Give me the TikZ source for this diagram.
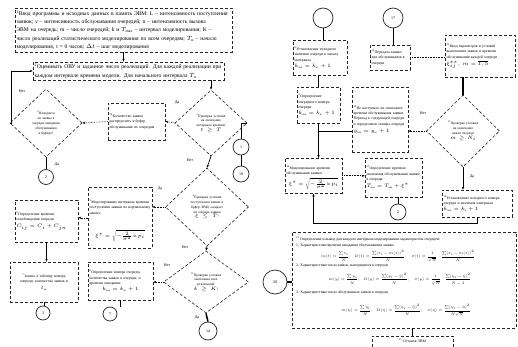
\documentclass[tikz,border=0pt]{standalone}
\usepackage{amsmath}
\usepackage{graphicx}
\usepackage{fontspec}
\setmainfont{Liberation Serif}
\usetikzlibrary{shapes.geometric,arrows.meta}
\tikzset{
 bx/.style={draw=black!85, densely dashed, line width=0.6pt, inner sep=1.5pt, align=left},
 ftA/.style={font=\fontsize{5.6}{8.2}\selectfont},
 ftB/.style={font=\fontsize{3.8}{5.3}\selectfont},
 dia/.style={draw=black!85, densely dashed, line width=0.6pt, diamond, inner sep=0pt},
 dtext/.style={font=\fontsize{3.5}{4.8}\selectfont, align=center, inner sep=0pt},
 circ/.style={draw=black!85, circle, line width=0.7pt, inner sep=0pt, font=\fontsize{4}{4}\selectfont},
 arr/.style={densely dotted, line width=0.6pt, -{Stealth[length=3pt,width=2.4pt]}},
 sarr/.style={line width=0.7pt, -{Stealth[length=3pt,width=2.4pt]}},
 ln/.style={line width=0.7pt},
 thk/.style={line width=1.5pt},
 lbl/.style={font=\fontsize{4}{4}\selectfont, inner sep=0pt},
 r9t/.style={font=\fontsize{3.8}{4.5}\selectfont, inner sep=0pt, anchor=west},
 r9f/.style={font=\fontsize{5}{5}\selectfont, inner sep=0pt},
 ffm/.style={font=\fontsize{3.8}{5.3}\selectfont, inner sep=0pt},
}
\newcommand{\fsm}[1]{\scalebox{0.72}{#1}}
\begin{document}
\begin{tikzpicture}[x=1pt,y=-1pt]
\useasboundingbox[fill=white] (0,0) rectangle (518,347);

% ---------------- left half ----------------
\node[bx, ftA, text width=214pt, minimum height=44pt] (b1) at (123.5,30) {\textsuperscript{1}Ввод программы и исходных данных в память ЭВМ: L – интенсивность поступления заявок; ν – интенсивность обслуживания очередей; n – интенсивность вызова ЭВМ на очередь; m – число очередей; k и $T_{\max}$ – интервал моделирования; K – число реализаций статистического моделирования по всем очередям; $T_{\text{н}}$ – начало моделирования, t = 0 часов; $\Delta t$ – шаг моделирования};
\node[bx, ftA, text width=188pt, minimum height=18pt] (b2) at (128.5,71) {\textsuperscript{2}Оценивать ОВУ и заданное число реализаций. Для каждой реализации при каждом интервале времени модели. Для начального интервала $T_{\text{н}}$};

\node[dia, minimum width=72pt, minimum height=68pt] (d1) at (46,123) {};
\node[dtext, text width=30pt] (d1t) at (d1) {\textsuperscript{9}Находится ли заявка в очереди ожидания обслуживания в буфере?};
\node[bx, ftB, text width=54pt, minimum height=37pt] (b3) at (136.5,121.5) {\textsuperscript{10}Количество заявок распределить в буфер обслуживания по очередям};
\node[dia, minimum width=72pt, minimum height=66pt] (d2) at (211,123) {};
\node[dtext, text width=32pt] (d2t) at (d2) {\textsuperscript{3}Проверка условия на окончание интервала времени $t\ge T$};
\node[circ, minimum size=16pt] (cA) at (241,147) {1};
\node[circ, minimum size=16pt] (cB) at (241,174) {18};
\node[circ, minimum size=15pt] (c2) at (46,177) {2};

\node[dia, minimum width=83pt, minimum height=78pt] (d3) at (207,207) {};
\node[dtext, text width=38pt] (d3t) at (d3) {\textsuperscript{4}Проверка условия поступления заявки в буфер ЭВМ, ожидает ли очередь заявки $\xi\le T$?};
\node[bx, ftB, text width=60pt, minimum height=42pt] (b4) at (46.5,221) {\textsuperscript{6}Определение времени освобождения очереди\\[2pt] $C_{ij}=C_i+C_{jn}$};
\node[bx, ftB, text width=61pt, minimum height=61pt, anchor=north, text depth=32pt] (b5) at (120,187) {\textsuperscript{5}Моделирование интервала времени поступления заявки по нормальному закону:};
\node[ffm] (b5f) at (120,236) {$\xi^{*}=\sqrt{-\tfrac{2}{\sigma^{2}}\ln p_i}$};

\node[bx, ftB, text width=65pt, minimum height=40pt, align=center] (b6) at (44,282) {\textsuperscript{7}Запись в таблицу номера очереди, количества заявок и\\[1pt] $t_{\text{ож}}$};
\node[bx, ftB, text width=62pt, minimum height=38pt] (b7) at (120.5,281) {\textsuperscript{8}Определение номера очереди, количества заявок в очереди, и времени ожидания:\\[1pt] \hfill$k_{\text{пов}}=k_{\text{пс}}+1$\hfill\null};
\node[dia, minimum width=85pt, minimum height=62pt] (d4) at (206,282) {};
\node[dtext, text width=36pt] (d4t) at (d4) {\textsuperscript{15}Проверка условия окончания всех реализаций $k\ge K$?};
\node[circ, minimum size=14pt] (c3) at (43,313) {3};
\node[circ, minimum size=14pt] (c7) at (110,314) {7};
\node[circ, minimum size=18pt] (c14) at (208,331) {14};

% left connectors
\draw[sarr] (b1.south) -- (b1.south |- b2.north);
\draw[sarr] (b2.south -| d2.north) -- (d2.north);
\draw[sarr] (d1.west) -- ++(2,0) |- (b2.west);
\draw[arr] (b3.west) -- (d1.east);
\draw[arr] (d2.west) -- (b3.east);
\draw[ln] (d2.east) -| (cA.north);
\draw[ln] (cA.south) -- (cB.north);
\draw[ln] (d1.south) -- (c2.north);
\draw[sarr] (d2.south) -- (d3.north);
\draw[arr] (d3.west) -- (d3.west -| b5.east);
\draw[arr] (b5.west) -- (b5.west -| b4.east);
\draw[sarr] (b4.south) -- (b4.south |- b6.north);
\draw[ln] (b6.south) -- (b6.south |- c3.north);
\draw[ln] (b7.south) -- (b7.south |- c7.north);
\draw[sarr] (d3.south) -- (d4.north);
\draw[arr] (d4.west) -- (d4.west -| b7.east);
\draw[thk] (d4.south) -- (c14.north);

\node[lbl] (l1) at (22,91) {Нет};
\node[lbl] (l2) at (57,165) {Да};
\node[lbl] (l3) at (177,103) {Да};
\node[lbl] (l4) at (190,160) {Нет};
\node[lbl] (l5) at (160,189) {Да};
\node[lbl] (l6) at (185,247) {Нет};
\node[lbl] (l7) at (167,265) {Нет};
\node[lbl] (l8) at (197,318) {Да};

% ---------------- right half ----------------
\node[circ, minimum size=20pt] (cR1) at (323,18) {};
\node[circ, minimum size=20pt] (cR2) at (393,18) {17};
\node[bx, ftB, text width=51pt, minimum height=35pt] (r1) at (320,57.5) {\textsuperscript{8}Установление исходного значения очереди к началу интервала\\[1pt] $k_{\text{пов}}=k_{\text{пс}}+1$};
\node[bx, ftB, text width=37pt, minimum height=25pt] (r2) at (390,57.5) {\textsuperscript{12}Передача заявки для обслуживания в очереди};
\node[bx, ftB, text width=67pt, minimum height=42pt] (r3) at (480,56) {\textsuperscript{13}Ввод параметров и условий выполнения заявок и времени обслуживания каждой очереди\\[2pt] $\xi_{ij}^{**},\ m=\overline{1,5}$};
\node[bx, ftB, text width=40pt, minimum height=36pt] (r4) at (318.5,105) {\textsuperscript{9}Определение очередного номера очереди\\[1pt] $k_{\text{пов}}=k_{\text{пс}}+1$};
\node[bx, ftB, text width=53pt, minimum height=65pt] (r5) at (380,119.5) {\textsuperscript{14}Не наступило ли окончание времени обслуживания заявки. Переход к следующей очереди и определение номера очереди\\[2pt] $y_{\text{пов}}=y_{\text{пс}}+1$};
\node[dia, minimum width=73pt, minimum height=72pt] (dR) at (463,131) {};
\node[dtext, text width=32pt] (dRt) at (dR) {\textsuperscript{15}Проверка условия на окончание цикла очереди $m\ge N_i$};
\node[bx, ftB, text width=54pt, minimum height=35pt, anchor=north, text depth=17pt] (r6) at (313.5,158) {\textsuperscript{16}Моделирование времени обслуживания заявки:};
\node[ffm] (r6f) at (313.5,184) {$\xi^{*}=\sqrt{-\tfrac{2}{\sigma^{2}}\ln p_i}$};
\node[bx, ftB, text width=54pt, minimum height=39pt] (r7) at (393.5,177.5) {\textsuperscript{17}Определение времени окончания обслуживания заявки в очереди:\\[2pt] $T_{\text{кон}}=T_{\text{нач}}+\xi^{*}$};
\node[circ, minimum size=16pt] (cR7) at (398,212) {2};
\node[bx, ftB, text width=67pt, minimum height=27pt] (r8) at (477,203.5) {\textsuperscript{18}Установление исходного номера очереди и значения интервала\\[1pt] $k_{\text{пов}}=k_{\text{н}}+1$};

\node[bx, minimum width=224pt, minimum height=96pt] (r9) at (404,280) {};
\node[r9t] (r9a) at (296,239) {\textsuperscript{21} Определение и вывод для каждого интервала моделирования характеристик очередей:};
\node[r9t] (r9b) at (296,246) {1. Характеристики времени ожидания обслуживания заявки};
\node[r9f] (f1) at (398,256) {\fsm{$\displaystyle m(t)=\frac{\sum t_i}{N};\;\; D(t)=\frac{\sum (t_i-m(t))^2}{N};\;\;\; \sigma(t)=\frac{1}{\sqrt{N}}\cdot\frac{\sum (t_i-m(t))^2}{N}$}};
\node[r9t] (r9c) at (296,266) {2. Характеристики числа заявок, находящихся в очереди};
\node[r9f] (f2) at (400,279) {\fsm{$\displaystyle m(y)=\frac{\sum y_i}{N};\;\; D(y)=\frac{\sum (y_i-\bar y)^2}{N};\;\;\; \sigma(y)=\frac{1}{\sqrt{N}}\cdot\frac{\sum (y_i-\bar y)^2}{N-1}$}};
\node[r9t] (r9d) at (296,293) {3. Характеристики числа обслуженных заявок в очереди};
\node[r9f] (f3) at (406,310) {\fsm{$\displaystyle m(\eta)=\frac{\sum \eta_i}{N};\;\; D(\eta)=\frac{\sum (\eta_i-\bar\eta)^2}{N};\;\;\; \sigma(\eta)=\frac{\sum (\eta_i-\bar\eta)^2}{N\sqrt{N}}$}};
\node[circ, minimum size=24pt] (c20) at (275,282) {20};
\node[bx, minimum width=81pt, minimum height=20pt, anchor=north] (r10) at (412.5,336) {};
\node[ftB, inner sep=0pt] (r10t) at (412.5,341) {\textsuperscript{21} Останов ЭВМ};

% right connectors
\draw[ln] (cR1.south) -- (cR1.south |- r1.north);
\draw[ln] (cR2.south) -- (cR2.south |- r2.north);
\draw[densely dotted, line width=0.6pt] (r2.east) -- (r2.east -| r3.west);
\draw[thk] (r1.south -| r4.north) -- (r4.north);
\draw[thk] (r3.south -| dR.north) -- (dR.north);
\draw[arr] (dR.west) -- (dR.west -| r5.east);
\draw[ln] (r5.west |- dR.west) -- (r4.south |- dR.west);
\draw[sarr] (r4.south) -- (r4.south |- r6.north);
\draw[arr] (r6.east) -- (r6.east -| r7.west);
\draw[ln] (r7.south -| cR7.north) -- (cR7.north);
\draw[sarr] (dR.south) -- (dR.south |- r8.north);
\draw[sarr] (r8.south) -- ++(0,6) -| (r6.south);
\draw[thk] (c20.east) -- (r9.west |- c20.east);
\draw[ln] (r10.north |- r9.south) -- (r10.north);
\node[lbl] (l9) at (423,113) {Нет};
\node[lbl] (l10) at (472,177) {Да};
\end{tikzpicture}
\end{document}
